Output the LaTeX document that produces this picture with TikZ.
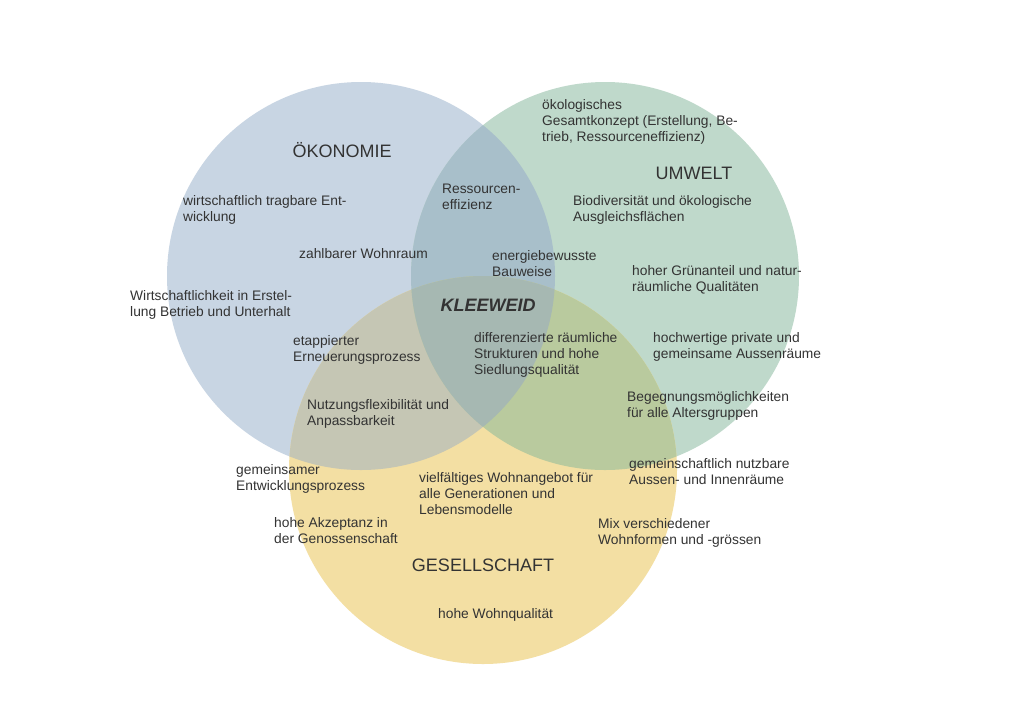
\documentclass[tikz,border=0pt]{standalone}
\usepackage{fontspec}
\setmainfont{Liberation Sans}
\definecolor{cB}{HTML}{C8D5E3}
\definecolor{cG}{HTML}{BFD9CB}
\definecolor{cY}{HTML}{F3DFA3}
\definecolor{cBG}{HTML}{A8BFCA}
\definecolor{cBY}{HTML}{C5C6B4}
\definecolor{cGY}{HTML}{B9CA9E}
\definecolor{cBGY}{HTML}{A6B8B2}
\definecolor{txt}{HTML}{333333}
\tikzset{
  lbl/.style={anchor=north west, inner sep=0pt, align=left, text=txt,
    font=\fontsize{13.8}{16.2}\selectfont},
  ttl/.style={anchor=center, inner sep=0pt, text=txt,
    font=\fontsize{18}{20}\selectfont},
}
\newcommand{\circB}{(361,276) circle[radius=194]}
\newcommand{\circG}{(605,276) circle[radius=194]}
\newcommand{\circY}{(483,470) circle[radius=194]}
\begin{document}
\begin{tikzpicture}[x=1pt,y=-1pt]
\useasboundingbox (0,0) rectangle (1024,724);
\fill[white] (0,0) rectangle (1024,724);
% base circles
\fill[cB] \circB;
\fill[cG] \circG;
\fill[cY] \circY;
% overlaps
\begin{scope}\clip \circB; \fill[cBG] \circG; \end{scope}
\begin{scope}\clip \circB; \fill[cBY] \circY; \end{scope}
\begin{scope}\clip \circG; \fill[cGY] \circY; \end{scope}
\begin{scope}\clip \circB; \clip \circG; \fill[cBGY] \circY; \end{scope}

% titles
\node[ttl] (oek) at (342,150) {ÖKONOMIE};
\node[ttl] (umw) at (694,173) {UMWELT};
\node[ttl] (ges) at (483,565) {GESELLSCHAFT};
\node[ttl, font=\fontsize{18}{20}\selectfont\bfseries\itshape] (klee) at (488,305) {KLEEWEID};

% labels
\node[lbl] (t1) at (542,97.5) {\strut ökologisches\\Gesamtkonzept (Erstellung, Be-\\trieb, Ressourceneffizienz)};
\node[lbl] (t2) at (442,181.5) {\strut Ressourcen-\\effizienz};
\node[lbl] (t3) at (573,193.5) {\strut Biodiversität und ökologische\\Ausgleichsflächen};
\node[lbl] (t4) at (183,193.5) {\strut wirtschaftlich tragbare Ent-\\wicklung};
\node[lbl] (t5) at (299,246.5) {\strut zahlbarer Wohnraum};
\node[lbl] (t6) at (492,248.5) {\strut energiebewusste\\Bauweise};
\node[lbl] (t7) at (632,263.5) {\strut hoher Grünanteil und natur-\\räumliche Qualitäten};
\node[lbl] (t8) at (130,288.5) {\strut Wirtschaftlichkeit in Erstel-\\lung Betrieb und Unterhalt};
\node[lbl] (t9) at (293,333.5) {\strut etappierter\\Erneuerungsprozess};
\node[lbl] (t10) at (474,330.5) {\strut differenzierte räumliche\\Strukturen und hohe\\Siedlungsqualität};
\node[lbl] (t11) at (653,330.5) {\strut hochwertige private und\\gemeinsame Aussenräume};
\node[lbl] (t12) at (627,389.5) {\strut Begegnungsmöglichkeiten\\für alle Altersgruppen};
\node[lbl] (t13) at (307,397.5) {\strut Nutzungsflexibilität und\\Anpassbarkeit};
\node[lbl] (t14) at (236,462.5) {\strut gemeinsamer\\Entwicklungsprozess};
\node[lbl] (t15) at (419,470.5) {\strut vielfältiges Wohnangebot für\\alle Generationen und\\Lebensmodelle};
\node[lbl] (t16) at (629,456.5) {\strut gemeinschaftlich nutzbare\\Aussen- und Innenräume};
\node[lbl] (t17) at (274,515.5) {\strut hohe Akzeptanz in\\der Genossenschaft};
\node[lbl] (t18) at (598,516.5) {\strut Mix verschiedener\\Wohnformen und -grössen};
\node[lbl] (t19) at (438,606.5) {\strut hohe Wohnqualität};
\end{tikzpicture}
\end{document}
